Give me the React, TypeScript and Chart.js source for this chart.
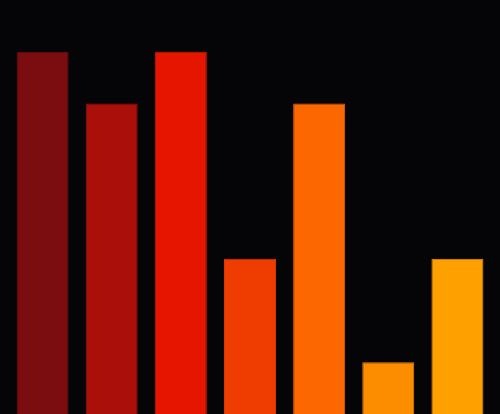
import { useEffect, useRef } from 'react';
import { Chart, registerables } from 'chart.js';

Chart.register(...registerables);

const categories = ['A', 'B', 'C', 'D', 'E', 'F', 'G'];
const values = [7, 6, 7, 3, 6, 1, 3];
const barColors = ['#7b0d10', '#aa0f09', '#e51500', '#ef3c01', '#fc6701', '#fd8d00', '#fea100'];
const borderColors = ['#6e0b0e', '#990d08', '#d01300', '#dc3601', '#e85e01', '#ea8100', '#eb9400'];

export default function App() {
  const canvasRef = useRef<HTMLCanvasElement>(null);

  useEffect(() => {
    document.body.style.margin = '0';
    document.body.style.background = '#050507';
    if (!canvasRef.current) return;
    const chart = new Chart(canvasRef.current, {
      type: 'bar',
      data: {
        labels: categories,
        datasets: [{
          data: values,
          backgroundColor: barColors,
          borderColor: borderColors,
          borderWidth: 1,
          barPercentage: 1,
          categoryPercentage: 0.752,
        }],
      },
      options: {
        animation: false,
        responsive: false,
        layout: { padding: { left: 8, right: 8, top: 0, bottom: 0 } },
        plugins: { legend: { display: false }, tooltip: { enabled: false } },
        scales: {
          x: { display: false },
          y: { display: false, min: 0, max: 8 },
        },
      },
    });
    return () => chart.destroy();
  }, []);

  return (
    <div style={{ width: 500, height: 414, background: '#050507' }}>
      <canvas ref={canvasRef} width={500} height={414} style={{ display: 'block' }} />
    </div>
  );
}
